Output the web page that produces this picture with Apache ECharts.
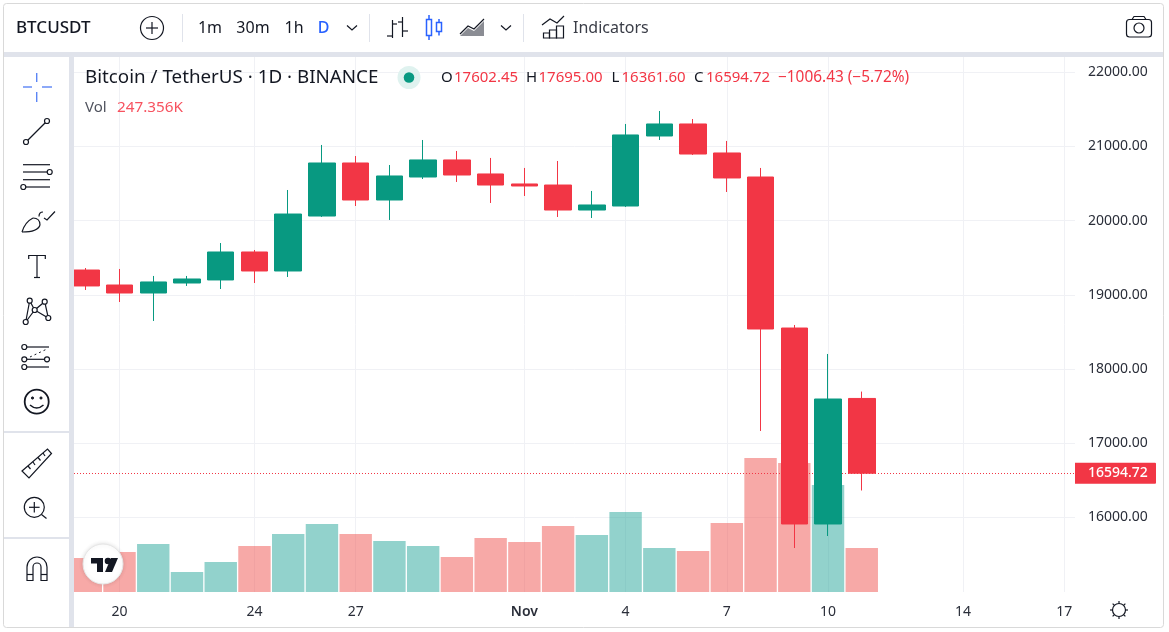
<!DOCTYPE html>
<html>
<head>
<meta charset="utf-8">
<title>BTCUSDT</title>
<style>
  html, body { margin: 0; padding: 0; background: #fff; }
  #graph { width: 1169px; height: 632px; }
</style>
<script src="https://cdn.jsdelivr.net/npm/echarts@6/dist/echarts.min.js"></script>
</head>
<body>
<div id="graph"></div>
<script>
// day number counted from 1 Oct, so 1 Nov = 32
var days = [19, 20, 21, 22, 23, 24, 25, 26, 27, 28, 29, 30, 31, 32, 33, 34, 35, 36, 37, 38, 39, 40, 41, 42];
var opens = [19334, 19132, 19024, 19159, 19200, 19577, 19321, 20062, 20777, 20278, 20588, 20818, 20629, 20494, 20480, 20143, 20197, 21141, 21303, 20912, 20588, 18552, 15910, 17602.45];
var closes = [19119, 19024, 19173, 19213, 19577, 19321, 20089, 20777, 20278, 20602, 20818, 20615, 20480, 20467, 20143, 20211, 21155, 21303, 20898, 20575, 18539, 15910, 17595, 16594.72];
var lows = [19065, 18903, 18647, 19119, 19078, 19159, 19240, 20049, 20197, 20009, 20561, 20521, 20238, 20332, 20049, 20035, 20184, 21087, 20885, 20386, 17164, 15586, 15748, 16361.6];
var highs = [19361, 19348, 19254, 19254, 19698, 19604, 20413, 21020, 20871, 20750, 21087, 20939, 20845, 20710, 20804, 20400, 21303, 21478, 21370, 21074, 20710, 18593, 18202, 17695];
// volume in thousands
var volumes = [191, 225, 270, 112, 169, 259, 326, 382, 326, 287, 259, 197, 304, 281, 371, 320, 450, 247, 231, 388, 753, 725, 602, 247.356];

var tickDays = [20, 24, 27, 32, 35, 38, 41, 45, 48];
var tickLabels = ["20", "24", "27", "Nov", "4", "7", "10", "14", "17"];
var priceTicks = [16000, 17000, 18000, 19000, 20000, 21000, 22000];
var lastPrice = 16594.72;

var UP = "#089981", DOWN = "#F23645";
var FONT = '"Noto Sans", sans-serif';
var INK = "#131722";

var myChart = echarts.init(document.getElementById('graph'));

// 工具栏的小函数
function line(pts, color, w, dash) {
  return {
    type: 'polyline', z: 100, silent: true,
    shape: { points: pts },
    style: { stroke: color || INK, lineWidth: w || 1.2, fill: null, lineDash: dash || null }
  };
}
function rect(x, y, w, h, fill, r) {
  return {
    type: 'rect', z: 99, silent: true,
    shape: { x: x, y: y, width: w, height: h, r: r || 0 },
    style: { fill: fill }
  };
}
function box(x, y, w, h, r, color, lw) {
  return {
    type: 'rect', z: 100, silent: true,
    shape: { x: x, y: y, width: w, height: h, r: r || 0 },
    style: { fill: null, stroke: color || INK, lineWidth: lw || 1.2 }
  };
}
function ring(x, y, r, color, w, fill) {
  return {
    type: 'circle', z: 100, silent: true,
    shape: { cx: x, cy: y, r: r },
    style: { stroke: color || INK, lineWidth: w || 1.2, fill: fill === undefined ? "#fff" : fill }
  };
}
function label(x, y, str, size, color, weight, align) {
  return {
    type: 'text', z: 100, silent: true, x: x, y: y,
    style: {
      text: str, fill: color || INK, font: (weight || 400) + ' ' + size + 'px ' + FONT,
      align: align || 'left', verticalAlign: 'middle'
    }
  };
}
function area(pts, fill) {
  return { type: 'polygon', z: 100, silent: true, shape: { points: pts }, style: { fill: fill } };
}
function curve(x1, y1, cx, cy, x2, y2, w) {
  return {
    type: 'bezierCurve', z: 100, silent: true,
    shape: { x1: x1, y1: y1, x2: x2, y2: y2, cpx1: cx, cpy1: cy },
    style: { stroke: INK, lineWidth: w || 1.2, fill: null }
  };
}
function arc(x, y, r, from, to) {
  return {
    type: 'arc', z: 100, silent: true,
    shape: { cx: x, cy: y, r: r, startAngle: from, endAngle: to, clockwise: true },
    style: { stroke: INK, lineWidth: 1.2, fill: null }
  };
}

var BAND = "#E0E3EB", BLUE = "#2962FF";
var chrome = [
  // 外框
  { type: 'rect', z: 98, silent: true, shape: { x: 3.5, y: 3.5, width: 1160, height: 624, r: 3 }, style: { fill: null, stroke: "#D9D9D9", lineWidth: 1 } },
  rect(4, 52, 1159, 5, BAND),
  rect(69, 57, 5, 570, BAND),
  rect(4, 431, 65, 2, BAND),
  rect(4, 537, 65, 2, BAND),

  // top toolbar
  label(16, 28, "BTCUSDT", 17, INK, 500),
  ring(152, 28, 11.5, INK, 1.2),
  line([[146, 28], [158, 28]]), line([[152, 22], [152, 34]]),
  rect(182, 14, 1, 28, BAND),
  label(210, 28, "1m", 16, INK, 400, 'center'),
  label(253, 28, "30m", 16, INK, 400, 'center'),
  label(294, 28, "1h", 16, INK, 400, 'center'),
  label(323.5, 28, "D", 16, BLUE, 500, 'center'),
  line([[347, 25.5], [352, 30], [357, 25.5]]),
  rect(369, 14, 1, 28, BAND),

  // bars icon
  line([[392.5, 20], [392.5, 38]]), line([[392.5, 24], [397, 24]]), line([[387, 36], [392.5, 36]]),
  line([[402.5, 17], [402.5, 37]]), line([[398, 22], [402.5, 22]]), line([[402.5, 31], [408, 31]]),
  // candles icon
  box(426.5, 19.5, 5, 16, 0, BLUE, 1.5),
  line([[429, 15], [429, 19.5]], BLUE, 1.5), line([[429, 35.5], [429, 40]], BLUE, 1.5),
  box(436.5, 22.5, 5, 9, 0, BLUE, 1.5),
  line([[439, 19], [439, 22.5]], BLUE, 1.5), line([[439, 31.5], [439, 35.5]], BLUE, 1.5),
  // area icon
  area([[460, 36], [468, 28], [474, 31], [484, 21], [484, 36]], "#8B8D94"),
  line([[460, 34], [468, 26], [474, 29], [484, 19]], INK, 1.2),
  line([[501, 25.5], [506, 30], [511, 25.5]]),
  rect(523, 14, 1, 28, BAND),
  // indicators icon
  line([[542, 25], [550, 19], [557, 23], [564, 16]]),
  box(543.5, 33, 6, 5), box(549.5, 30, 7, 8), box(556.5, 26, 7, 12),
  label(573, 28, "Indicators", 16, "#3A3D47"),
  // camera
  box(1126.5, 19.5, 25, 17.5, 3),
  line([[1132, 19.5], [1134, 16.5], [1144, 16.5], [1146, 19.5]]),
  ring(1139, 28, 5, INK, 1.2),

  // left toolbar
  line([[36.7, 73], [36.7, 82]], "#5B85F5", 1.4), line([[36.7, 92], [36.7, 102]], "#5B85F5", 1.4),
  line([[23, 87], [32, 87]], "#5B85F5", 1.4), line([[42, 87], [52, 87]], "#5B85F5", 1.4),

  line([[26, 142], [47, 121]]), ring(26, 142, 2.5), ring(47, 121, 2.5),

  line([[23, 164.7], [50, 164.7]]), line([[23, 172], [47, 172]]), ring(49.7, 172, 2.5),
  line([[23, 179.7], [50, 179.7]]), line([[26, 187], [50, 187]]), ring(23.3, 187, 2.5),

  // brush
  curve(22, 232, 25, 222, 33, 218), curve(33, 218, 40, 218, 40, 225), curve(40, 225, 38, 232, 22, 232),
  curve(39, 216.5, 39, 212, 43, 212), line([[44, 218], [47, 220], [55, 211.5]]),

  line([[28.7, 259], [28.7, 255.5], [45.3, 255.5], [45.3, 259]]),
  line([[37, 255.5], [37, 277.5]]), line([[34, 277.5], [40, 277.5]]),

  line([[25.7, 322], [29.7, 300.7], [34.7, 310], [44.7, 301.7], [48.3, 318], [34.7, 310], [25.7, 322]]),
  ring(29.7, 300.7, 2.5), ring(44.7, 301.7, 2.5), ring(34.7, 310, 2.5), ring(48.3, 318, 2.5), ring(25.7, 322, 2.5),

  line([[27, 347], [49, 347]]), line([[27, 359.3], [44.5, 359.3]]), line([[27, 367], [49, 367]]),
  line([[30, 357], [47, 349]], INK, 1, [2, 3]),
  ring(24.3, 347, 2.5), ring(24.3, 359.3, 2.5), ring(47, 359.3, 2.5), ring(24.3, 367, 2.5),

  ring(36.7, 401.7, 12, INK, 1.8),
  ring(32.5, 398, 1.1, INK, 1, INK), ring(41, 398, 1.1, INK, 1, INK),
  curve(30, 405, 36.7, 411, 43.5, 405, 1.5),

  // ruler
  {
    type: 'polygon', z: 100, silent: true,
    shape: { points: [[22, 471], [47.5, 449], [51.5, 453.5], [29, 478]] },
    style: { stroke: INK, lineWidth: 1.2, fill: "#fff" }
  },
  line([[28, 466], [30.5, 469]]), line([[33, 462], [35, 465]]), line([[38, 457.5], [40.5, 460.5]]), line([[43, 453], [45, 456]]),

  ring(34.3, 507.3, 10, INK, 1.2),
  line([[29, 507.3], [39.6, 507.3]]), line([[34.3, 502], [34.3, 512.6]]),
  line([[41.5, 514.5], [46.5, 518.5]]),

  // magnet
  arc(37, 567, 10, Math.PI, 2 * Math.PI), arc(37, 567, 4, Math.PI, 2 * Math.PI),
  line([[27, 567], [27, 580.5], [33, 580.5], [33, 567]]), line([[41, 567], [41, 580.5], [47, 580.5], [47, 567]]),
  line([[27, 574.5], [33, 574.5]]), line([[41, 574.5], [47, 574.5]]),

  // legend
  label(85, 78, "Bitcoin / TetherUS · 1D · BINANCE", 18.8, INK),
  ring(409, 77.5, 11.5, "rgba(0,0,0,0)", 0, "#DFF2EF"),
  ring(409, 77.5, 5.3, "rgba(0,0,0,0)", 0, UP),
  label(441, 78, "O", 15, INK),
  label(454, 78, "17602.45", 15, DOWN),
  label(526, 78, "H", 15, INK),
  label(538.5, 78, "17695.00", 15, DOWN),
  label(611.5, 78, "L", 15, INK),
  label(621.5, 78, "16361.60", 15, DOWN),
  label(694, 78, "C", 15, INK),
  label(706, 78, "16594.72", 15, DOWN),
  label(778, 78, "−1006.43 (−5.72%)", 15.4, DOWN),
  label(85, 108, "Vol", 15, "#50535E"),
  label(117, 108, "247.356K", 15.3, "#F7525F"),

  // TV logo
  {
    type: 'circle', z: 100, silent: true,
    shape: { cx: 103, cy: 564, r: 20 },
    style: { fill: "#fff", stroke: "#E6E6E6", lineWidth: 1, shadowBlur: 4, shadowColor: "rgba(0,0,0,0.12)" }
  },
  area([[91, 558], [103, 558], [103, 572], [97, 572], [97, 563.5], [91, 563.5]], INK),
  ring(108, 561, 2.7, INK, 0, INK),
  area([[111, 558], [118, 558], [112, 572], [105, 572]], INK),

  // sun button
  ring(1119, 610, 6.5, INK, 1.2)
];
// 太阳的八条光线
[0, 45, 90, 135, 180, 225, 270, 315].forEach(function (deg) {
  var a = deg * Math.PI / 180;
  chrome.push(line([[1119 + 6.5 * Math.cos(a), 610 + 6.5 * Math.sin(a)], [1119 + 9 * Math.cos(a), 610 + 9 * Math.sin(a)]], INK, 1.2));
});

var candleData = days.map(function (d, i) {
  return [d, opens[i], closes[i], lows[i], highs[i]];
});
var volumeData = days.map(function (d, i) {
  return {
    value: [d, volumes[i]],
    itemStyle: { color: closes[i] >= opens[i] ? "rgba(38,166,154,0.5)" : "rgba(239,83,80,0.5)" }
  };
});

var option = {
  animation: false,
  backgroundColor: "#fff",
  textStyle: { fontFamily: FONT },
  grid: { left: 74, right: 94, top: 57, bottom: 40 },
  graphic: { elements: chrome },
  xAxis: {
    type: 'value',
    min: 18.651,
    max: 48.32,
    axisLine: { show: false },
    axisTick: { show: false, customValues: tickDays },
    splitLine: { show: true, lineStyle: { color: "#F0F1F5", width: 1 } },
    axisLabel: {
      customValues: tickDays,
      margin: 13,
      fontSize: 14,
      color: "#2A2E39",
      hideOverlap: false,
      showMinLabel: true,
      showMaxLabel: true,
      formatter: function (v) {
        var s = tickLabels[tickDays.indexOf(v)];
        return s === "Nov" ? '{m|' + s + '}' : s;
      },
      rich: { m: { fontSize: 14, fontWeight: 600, color: "#2A2E39", fontFamily: FONT } }
    }
  },
  yAxis: [
    {
      type: 'value',
      position: 'right',
      min: 14993,
      max: 22206,
      axisLine: { show: false },
      axisTick: { show: false, customValues: priceTicks },
      splitLine: { show: true, lineStyle: { color: "#F0F1F5", width: 1 } },
      axisLabel: {
        customValues: priceTicks,
        margin: 13,
        fontSize: 14,
        color: "#2A2E39",
        padding: [4, 0, 0, 0],
        formatter: function (v) { return v.toFixed(2); }
      }
    },
    {
      // 成交量，画在下方
      type: 'value',
      show: false,
      min: 0,
      max: 3007,
      splitLine: { show: false }
    }
  ],
  series: [
    {
      type: 'bar',
      yAxisIndex: 1,
      data: volumeData,
      barWidth: 32.4,
      z: 1,
      itemStyle: { borderWidth: 0 }
    },
    {
      type: 'candlestick',
      yAxisIndex: 0,
      data: candleData,
      encode: { x: 0, y: [1, 2, 3, 4] },
      barWidth: 27,
      z: 3,
      itemStyle: { color: UP, color0: DOWN, borderColor: UP, borderColor0: DOWN, borderWidth: 1 },
      markLine: {
        silent: true,
        symbol: 'none',
        z: 2,
        data: [{ yAxis: lastPrice }],
        lineStyle: { color: DOWN, type: [1, 2], width: 1 },
        label: {
          show: true,
          position: 'end',
          distance: 0,
          formatter: lastPrice.toFixed(2),
          color: "#fff",
          backgroundColor: DOWN,
          fontSize: 14,
          fontWeight: 500,
          fontFamily: FONT,
          width: 68,
          height: 21,
          lineHeight: 21,
          padding: [0, 0, 0, 13],
          borderRadius: [0, 1, 1, 0]
        }
      }
    }
  ]
};
myChart.setOption(option);
window.addEventListener("resize", function () {
  myChart.resize();
});
</script>
</body>
</html>
